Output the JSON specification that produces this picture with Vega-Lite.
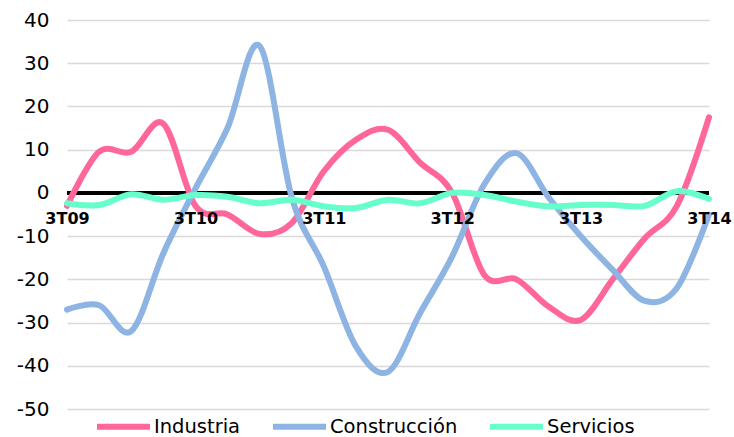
{
  "$schema": "https://vega.github.io/schema/vega-lite/v6.json",
  "width": 642,
  "height": 389,
  "autosize": "none",
  "padding": {"left": 67, "top": 20, "right": 25, "bottom": 28},
  "background": "white",
  "config": {"view": {"stroke": null}, "font": "DejaVu Sans"},
  "data": {
    "values": [
      {"q": "3T09", "serie": "Industria", "v": -3},
      {"q": "4T09", "serie": "Industria", "v": 9.5},
      {"q": "1T10", "serie": "Industria", "v": 9.5},
      {"q": "2T10", "serie": "Industria", "v": 16},
      {"q": "3T10", "serie": "Industria", "v": -3},
      {"q": "4T10", "serie": "Industria", "v": -5},
      {"q": "1T11", "serie": "Industria", "v": -9.5},
      {"q": "2T11", "serie": "Industria", "v": -7},
      {"q": "3T11", "serie": "Industria", "v": 5},
      {"q": "4T11", "serie": "Industria", "v": 12.3},
      {"q": "1T12", "serie": "Industria", "v": 14.6},
      {"q": "2T12", "serie": "Industria", "v": 7},
      {"q": "3T12", "serie": "Industria", "v": 0},
      {"q": "4T12", "serie": "Industria", "v": -19},
      {"q": "1T13", "serie": "Industria", "v": -20},
      {"q": "2T13", "serie": "Industria", "v": -26.3},
      {"q": "3T13", "serie": "Industria", "v": -29.4},
      {"q": "4T13", "serie": "Industria", "v": -20},
      {"q": "1T14", "serie": "Industria", "v": -10.5},
      {"q": "2T14", "serie": "Industria", "v": -3},
      {"q": "3T14", "serie": "Industria", "v": 17.5},
      {"q": "3T09", "serie": "Construcción", "v": -27},
      {"q": "4T09", "serie": "Construcción", "v": -26},
      {"q": "1T10", "serie": "Construcción", "v": -32},
      {"q": "2T10", "serie": "Construcción", "v": -14},
      {"q": "3T10", "serie": "Construcción", "v": 1},
      {"q": "4T10", "serie": "Construcción", "v": 15},
      {"q": "1T11", "serie": "Construcción", "v": 34},
      {"q": "2T11", "serie": "Construcción", "v": -1},
      {"q": "3T11", "serie": "Construcción", "v": -17},
      {"q": "4T11", "serie": "Construcción", "v": -35.5},
      {"q": "1T12", "serie": "Construcción", "v": -41.4},
      {"q": "2T12", "serie": "Construcción", "v": -27.8},
      {"q": "3T12", "serie": "Construcción", "v": -14.7},
      {"q": "4T12", "serie": "Construcción", "v": 2},
      {"q": "1T13", "serie": "Construcción", "v": 9.2},
      {"q": "2T13", "serie": "Construcción", "v": -1},
      {"q": "3T13", "serie": "Construcción", "v": -10},
      {"q": "4T13", "serie": "Construcción", "v": -17.8},
      {"q": "1T14", "serie": "Construcción", "v": -25},
      {"q": "2T14", "serie": "Construcción", "v": -22},
      {"q": "3T14", "serie": "Construcción", "v": -5},
      {"q": "3T09", "serie": "Servicios", "v": -2.4},
      {"q": "4T09", "serie": "Servicios", "v": -2.8},
      {"q": "1T10", "serie": "Servicios", "v": -0.3},
      {"q": "2T10", "serie": "Servicios", "v": -1.6},
      {"q": "3T10", "serie": "Servicios", "v": -0.5},
      {"q": "4T10", "serie": "Servicios", "v": -0.9},
      {"q": "1T11", "serie": "Servicios", "v": -2.4},
      {"q": "2T11", "serie": "Servicios", "v": -1.6},
      {"q": "3T11", "serie": "Servicios", "v": -3.1},
      {"q": "4T11", "serie": "Servicios", "v": -3.5},
      {"q": "1T12", "serie": "Servicios", "v": -1.6},
      {"q": "2T12", "serie": "Servicios", "v": -2.4},
      {"q": "3T12", "serie": "Servicios", "v": 0},
      {"q": "4T12", "serie": "Servicios", "v": -0.5},
      {"q": "1T13", "serie": "Servicios", "v": -2},
      {"q": "2T13", "serie": "Servicios", "v": -3.1},
      {"q": "3T13", "serie": "Servicios", "v": -2.8},
      {"q": "4T13", "serie": "Servicios", "v": -2.8},
      {"q": "1T14", "serie": "Servicios", "v": -3},
      {"q": "2T14", "serie": "Servicios", "v": 0.4},
      {"q": "3T14", "serie": "Servicios", "v": -1.4}
    ]
  },
  "layer": [
    {
      "mark": {"type": "rule", "color": "black", "strokeWidth": 3},
      "encoding": {
        "y": {
          "datum": 0,
          "type": "quantitative",
          "scale": {"domain": [-50, 40], "nice": false, "zero": false},
          "axis": {
            "title": null,
            "values": [-50, -40, -30, -20, -10, 0, 10, 20, 30, 40],
            "domain": false,
            "ticks": false,
            "grid": true,
            "gridColor": "#d9d9d9",
            "gridWidth": 1.5,
            "labelFont": "DejaVu Sans",
            "labelFontSize": 20,
            "labelColor": "black",
            "labelPadding": 18,
            "labelExpr": "'' + datum.value"
          }
        }
      }
    },
    {
      "mark": {"type": "line", "interpolate": "cardinal", "strokeWidth": 6, "strokeCap": "round"},
      "encoding": {
        "x": {
          "field": "q",
          "type": "ordinal",
          "sort": null,
          "scale": {"type": "point", "padding": 0},
          "axis": {
            "title": null,
            "offset": -216,
            "domain": false,
            "ticks": false,
            "grid": false,
            "zindex": 1,
            "labelAngle": 0,
            "labelFont": "DejaVu Sans",
            "labelFontWeight": "bold",
            "labelFontSize": 16,
            "labelColor": "black",
            "labelPadding": 17,
            "labelOverlap": false,
            "labelExpr": "indexof(datum.label, '3T') == 0 ? datum.label : ''"
          }
        },
        "y": {
          "field": "v",
          "type": "quantitative",
          "scale": {"domain": [-50, 40], "nice": false, "zero": false},
          "axis": {
            "title": null,
            "values": [-50, -40, -30, -20, -10, 0, 10, 20, 30, 40],
            "domain": false,
            "ticks": false,
            "grid": true,
            "gridColor": "#d9d9d9",
            "gridWidth": 1.5,
            "labelFont": "DejaVu Sans",
            "labelFontSize": 20,
            "labelColor": "black",
            "labelPadding": 18,
            "labelExpr": "'' + datum.value"
          }
        },
        "color": {
          "field": "serie",
          "type": "nominal",
          "sort": ["Industria", "Construcción", "Servicios"],
          "scale": {
            "domain": ["Industria", "Construcción", "Servicios"],
            "range": ["#FF6699", "#8DB4E2", "#66FFCC"]
          },
          "legend": {
            "title": null,
            "orient": "none",
            "direction": "horizontal",
            "legendX": 27,
            "legendY": 377,
            "symbolType": "stroke",
            "symbolSize": 2809,
            "symbolStrokeWidth": 6,
            "labelFont": "DejaVu Sans",
            "labelFontSize": 19.5,
            "labelColor": "black",
            "labelOffset": 1,
            "columnPadding": 20
          }
        }
      }
    }
  ]
}
